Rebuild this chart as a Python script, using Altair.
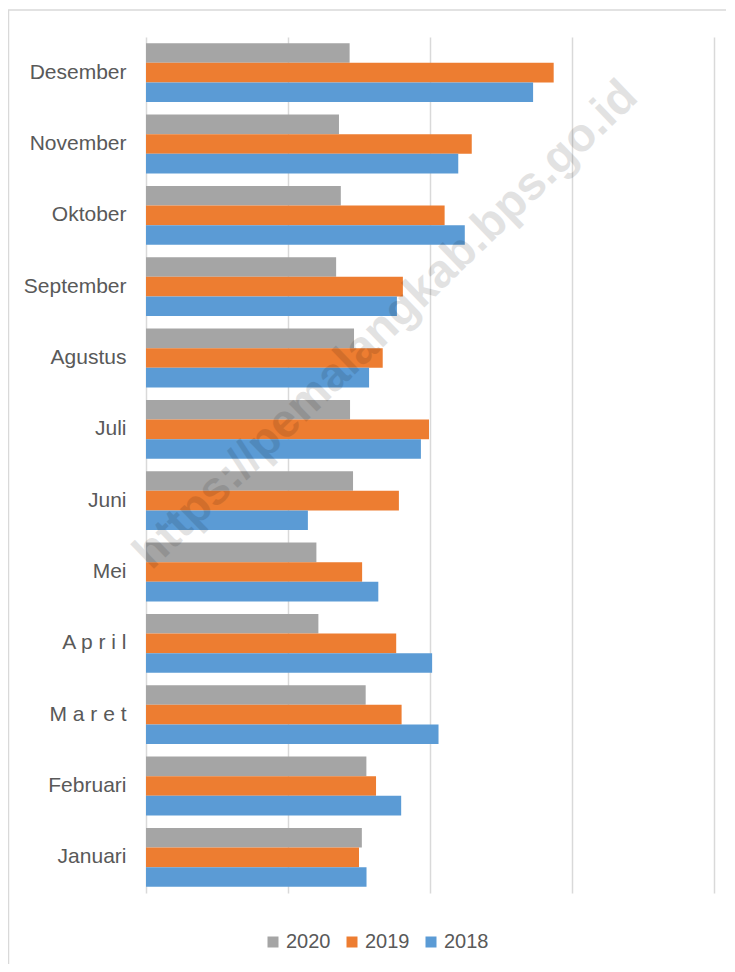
import altair as alt
import pandas as pd

# Months, top-to-bottom as shown in the chart
months = ["Desember", "November", "Oktober", "September", "Agustus", "Juli",
          "Juni", "Mei", "A p r i l", "M a r e t", "Februari", "Januari"]
years = ["2020", "2019", "2018"]

# Values (axis has no labels; gridlines at 0,100,200,300,400)
v2020 = [143.4, 135.9, 137.2, 133.9, 146.5, 143.7, 145.8, 120.0, 121.4, 154.7, 155.2, 152.0]
v2019 = [287.1, 229.4, 210.3, 180.9, 166.7, 199.3, 178.1, 152.2, 176.2, 180.0, 162.0, 150.0]
v2018 = [272.6, 219.9, 224.5, 176.7, 157.1, 193.6, 114.0, 163.6, 201.5, 206.0, 179.7, 155.3]

colors = ["#A5A5A5", "#ED7D31", "#5B9BD5"]
watermark = "https://pemalangkab.bps.go.id"

rows = []
for yr, vals in zip(years, [v2020, v2019, v2018]):
    for m, v in zip(months, vals):
        rows.append({"month": m, "year": yr, "value": v})
df = pd.DataFrame(rows)

FONT = "Liberation Sans"
TXT = "#595959"

bars = alt.Chart(df).mark_bar().encode(
    x=alt.X("value:Q",
            scale=alt.Scale(domain=[0, 400], nice=False, zero=True),
            axis=alt.Axis(title=None, labels=False, ticks=False, domain=False,
                          grid=True, gridColor="#d9d9d9", gridWidth=1.5,
                          values=[0, 100, 200, 300, 400])),
    y=alt.Y("month:N", sort=months,
            scale=alt.Scale(paddingInner=0.175, paddingOuter=0.0875),
            axis=alt.Axis(title=None, ticks=False, domain=False, labelFontSize=21,
                          labelColor=TXT, labelFont=FONT, labelPadding=20)),
    yOffset=alt.YOffset("year:N", sort=years,
                        scale=alt.Scale(paddingInner=0, paddingOuter=0)),
    color=alt.Color("year:N", sort=years,
                    scale=alt.Scale(domain=years, range=colors),
                    legend=alt.Legend(title=None, orient="none", direction="horizontal",
                                      legendX=117, legendY=895,
                                      symbolType="square", symbolSize=121,
                                      symbolStrokeWidth=0, labelFontSize=20,
                                      labelColor=TXT, labelFont=FONT,
                                      labelOffset=3, columnPadding=11)),
)

one = alt.Data(values=[{"k": 1}])

border = alt.Chart(one).mark_rect(fillOpacity=0, stroke="#d9d9d9", strokeWidth=1.5).encode(
    x=alt.value(-137.5), x2=alt.value(720), y=alt.value(-27), y2=alt.value(1000)
)

wm = alt.Chart(one).mark_text(
    text=watermark, angle=316, font=FONT, fontWeight="bold", fontSize=47,
    color="black", opacity=0.11, align="center", baseline="middle"
).encode(
    x=alt.datum(169), y=alt.value(288)
)

chart = alt.layer(border, bars, wm).properties(
    width=568, height=856,
    autosize=alt.AutoSizeParams(type="none"),
    padding={"left": 138, "top": 29, "right": 12, "bottom": 71},
    background="white",
).configure_view(stroke=None)

chart.save("out.html", embed_options={"renderer": "svg", "actions": False})
